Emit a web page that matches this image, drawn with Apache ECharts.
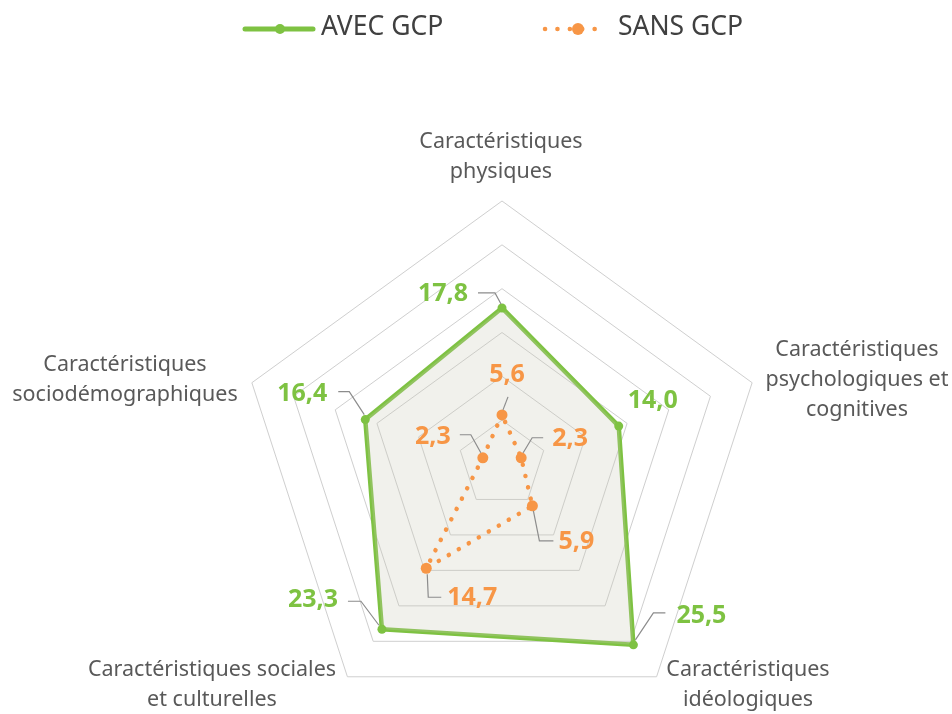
<!DOCTYPE html>
<html>
<head>
<meta charset="utf-8">
<script src="https://cdn.jsdelivr.net/npm/echarts@6/dist/echarts.min.js"></script>
<style>
  html, body { margin: 0; padding: 0; background: #ffffff; }
  #chart { width: 952px; height: 714px; }
</style>
</head>
<body>
<div id="chart"></div>
<script>
// Axes, listed clockwise from the top
const categories = [
  'Caractéristiques\nphysiques',
  'Caractéristiques\npsychologiques et\ncognitives',
  'Caractéristiques\nidéologiques',
  'Caractéristiques sociales\net culturelles',
  'Caractéristiques\nsociodémographiques'
];
const seriesNames = ['AVEC GCP', 'SANS GCP'];
const avecGcp = [17.8, 14.0, 25.5, 23.3, 16.4];
const sansGcp = [5.6, 2.3, 5.9, 14.7, 2.3];
const axisMax = 30;
const ringCount = 6;

// Styling
const GREEN = '#7EC242';
const ORANGE = '#F79646';
const TEXT = '#595959';
const FONT = '"Noto Sans", "Open Sans", sans-serif';

// ECharts lays radar indicators out counter-clockwise; map the clockwise list onto it
const ecOrder = [0, 4, 3, 2, 1];
const toEc = arr => ecOrder.map(i => arr[i]);

// Axis name placement (block centre) for each category, clockwise from the top
const namePos = [
  [501, 157], [857, 380], [748, 685], [212, 685], [125, 380]
];

// Value label layout relative to its point: label centre offset and leader polyline
const labelLayout = {
  'AVEC GCP': [
    { d: [-59, -14], lead: [[-24, -15], [-7, -15], [-1, -4]] },
    { d: [34, -25], lead: null },
    { d: [68, -29], lead: [[32, -32], [20, -32], [2, -5]] },
    { d: [-69, -29], lead: [[-34, -28], [-21, -28], [-3, -4]] },
    { d: [-63, -26], lead: [[-27, -28], [-16, -28], [-1, -5]] }
  ],
  'SANS GCP': [
    { d: [5, -40], lead: [[6, -18], [1, -5]] },
    { d: [49, -19], lead: [[22, -20], [11, -20], [2, -5]] },
    { d: [44, 36], lead: [[1, 5], [7, 35], [21, 35]] },
    { d: [46, 30], lead: [[1, 6], [2, 29], [15, 29]] },
    { d: [-50, -21], lead: [[-23, -23], [-12, -23], [-2, -5]] }
  ]
};

const chart = echarts.init(document.getElementById('chart'), null, { renderer: 'canvas' });

const fmt = v => v.toFixed(1).replace('.', ',');

chart.setOption({
  animation: false,
  backgroundColor: '#ffffff',
  radar: {
    center: [502, 464],
    radius: 263,
    startAngle: 90,
    shape: 'polygon',
    splitNumber: ringCount,
    indicator: toEc(categories).map(n => ({ name: n, min: 0, max: axisMax })),
    axisName: { show: false },
    axisLine: { show: false },
    axisTick: { show: false },
    axisLabel: { show: false },
    splitArea: { show: false },
    splitLine: { lineStyle: { color: '#CFCFCF', width: 1 } }
  },
  series: [
    {
      type: 'radar',
      name: seriesNames[0],
      z: 2,
      symbol: 'circle',
      symbolSize: 9,
      itemStyle: { color: GREEN },
      lineStyle: { color: GREEN, width: 4.5, join: 'round' },
      areaStyle: { color: 'rgba(200,200,182,0.26)', opacity: 1 },
      data: [{ value: toEc(avecGcp), name: seriesNames[0] }]
    },
    {
      type: 'radar',
      name: seriesNames[1],
      z: 3,
      symbol: 'circle',
      symbolSize: 11,
      itemStyle: { color: ORANGE },
      lineStyle: { color: ORANGE, width: 4.5, type: [0.1, 11.5], cap: 'round' },
      data: [{ value: toEc(sansGcp), name: seriesNames[1] }]
    }
  ]
});

// Build axis names, legend, and value labels with leader lines
const graphics = [];

categories.forEach((name, i) => {
  graphics.push({
    type: 'text',
    x: namePos[i][0], y: namePos[i][1],
    silent: true,
    style: {
      text: name, fill: TEXT, font: '21.5px ' + FONT,
      align: 'center', verticalAlign: 'middle', lineHeight: 30
    }
  });
});

// Legend
const legendY = 29;
graphics.push(
  { type: 'line', shape: { x1: 245, y1: legendY, x2: 313, y2: legendY },
    style: { stroke: GREEN, lineWidth: 5, lineCap: 'round' } },
  { type: 'circle', shape: { cx: 280, cy: legendY, r: 5 }, style: { fill: GREEN } },
  { type: 'text', x: 321, y: legendY - 2,
    style: { text: seriesNames[0], fill: '#404040', font: '26.5px ' + FONT, align: 'left', verticalAlign: 'middle' } },
  { type: 'line', shape: { x1: 545, y1: legendY, x2: 607, y2: legendY },
    style: { stroke: ORANGE, lineWidth: 4.5, lineCap: 'round', lineDash: [0.1, 12.3] } },
  { type: 'circle', shape: { cx: 578, cy: legendY, r: 6 }, style: { fill: ORANGE } },
  { type: 'text', x: 618, y: legendY - 2,
    style: { text: seriesNames[1], fill: '#404040', font: '26.5px ' + FONT, align: 'left', verticalAlign: 'middle' } }
);

// Value labels positioned through the radar coordinate system
const radarCS = chart.getModel().getComponent('radar').coordinateSystem;
[[seriesNames[0], avecGcp, GREEN], [seriesNames[1], sansGcp, ORANGE]].forEach(([sName, vals, color]) => {
  vals.forEach((v, i) => {
    const pt = radarCS.dataToPoint(v, ecOrder.indexOf(i));
    const lay = labelLayout[sName][i];
    if (lay.lead) {
      graphics.push({
        type: 'polyline', silent: true, z: 10,
        shape: { points: lay.lead.map(p => [pt[0] + p[0], pt[1] + p[1]]) },
        style: { stroke: '#8C8C8C', lineWidth: 1.2, fill: null }
      });
    }
    graphics.push({
      type: 'text', silent: true, z: 11,
      x: pt[0] + lay.d[0], y: pt[1] + lay.d[1],
      style: {
        text: fmt(v), fill: color, font: 'bold 25px ' + FONT,
        align: 'center', verticalAlign: 'middle'
      }
    });
  });
});

chart.setOption({ graphic: graphics });
</script>
</body>
</html>
